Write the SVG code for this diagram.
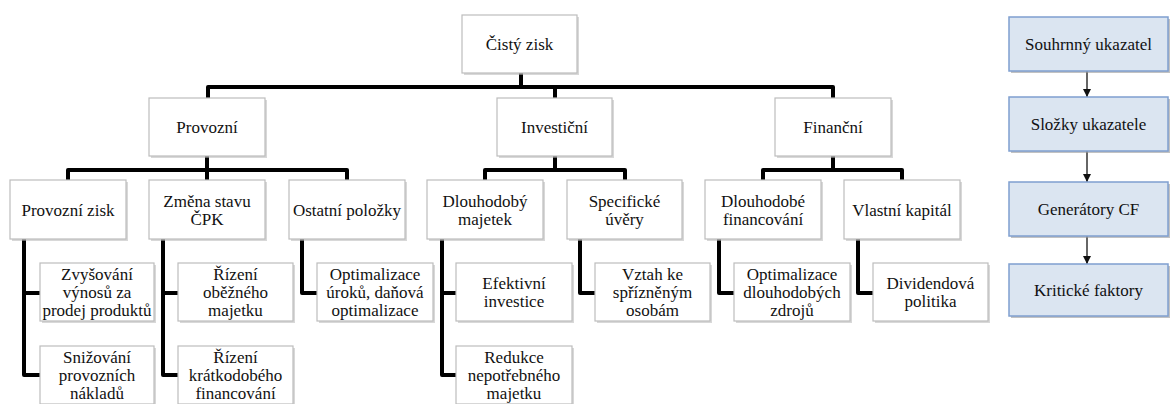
<svg xmlns="http://www.w3.org/2000/svg" width="1173" height="404" viewBox="0 0 1173 404" font-family="Liberation Serif, serif">
<defs>
<style>
.bx{fill:#ffffff;stroke:#bdbdbd;stroke-width:1.2}
.sh{fill:#b8b8b8;opacity:0.55}
.bb{fill:#dbe5f1;stroke:#7f9fcf;stroke-width:1.5}
.bsh{fill:#9a9a9a;opacity:0.6}
.t{font-size:17px;fill:#111;text-anchor:middle}
.c{fill:none;stroke:#000;stroke-width:4;stroke-linejoin:round}
.a{fill:none;stroke:#333;stroke-width:1.5}
</style>
<marker id="ah" viewBox="0 0 10 10" refX="10" refY="5" markerWidth="8" markerHeight="8" markerUnits="userSpaceOnUse" orient="auto">
<path d="M0,0 L10,5 L0,10 z" fill="#111"/>
</marker>
</defs>
<rect width="1173" height="404" fill="#ffffff"/>

<g id="connectors">
<path class="c" d="M521,73 V87 M208,98 V87 H833 V98 M555,87 V98"/>
<path class="c" d="M207,156 V170 M68,180 V170 H347 V180 M207,170 V180"/>
<path class="c" d="M555,156 V170 M485,180 V170 H625 V180"/>
<path class="c" d="M833,156 V170 M763,180 V170 H902 V180"/>
<path class="c" d="M24,239 V375 H40 M24,293 H40"/>
<path class="c" d="M163,239 V375 H178 M163,293 H178"/>
<path class="c" d="M302,239 V293 H317"/>
<path class="c" d="M442,239 V375 H456 M442,293 H456"/>
<path class="c" d="M580,239 V293 H595"/>
<path class="c" d="M719,239 V293 H734"/>
<path class="c" d="M858,239 V293 H873"/>
<path class="a" d="M1087,71 V97" marker-end="url(#ah)"/>
<path class="a" d="M1087,151 V182" marker-end="url(#ah)"/>
<path class="a" d="M1087,236 V264" marker-end="url(#ah)"/>
</g>

<g id="cisty-zisk"><rect class="sh" x="464" y="17" width="115" height="58"/><rect class="bx" x="462" y="15" width="115" height="58"/><text class="t" x="519.5" y="50">Čistý zisk</text></g>

<g id="provozni"><rect class="sh" x="151" y="100" width="116" height="58"/><rect class="bx" x="149" y="98" width="116" height="58"/><text class="t" x="207" y="133">Provozní</text></g>
<g id="investicni"><rect class="sh" x="499" y="100" width="115" height="58"/><rect class="bx" x="497" y="98" width="115" height="58"/><text class="t" x="554.5" y="133">Investiční</text></g>
<g id="financni"><rect class="sh" x="777" y="100" width="116" height="58"/><rect class="bx" x="775" y="98" width="116" height="58"/><text class="t" x="833" y="133">Finanční</text></g>

<g id="provozni-zisk"><rect class="sh" x="12" y="182" width="116" height="59"/><rect class="bx" x="10" y="180" width="116" height="59"/><text class="t" x="68" y="215.5">Provozní zisk</text></g>
<g id="zmena-cpk"><rect class="sh" x="151" y="182" width="116" height="59"/><rect class="bx" x="149" y="180" width="116" height="59"/><text class="t" x="207" y="206.5">Změna stavu</text><text class="t" x="207" y="224.5">ČPK</text></g>
<g id="ostatni"><rect class="sh" x="291" y="182" width="116" height="59"/><rect class="bx" x="289" y="180" width="116" height="59"/><text class="t" x="347" y="215.5">Ostatní položky</text></g>
<g id="dlouhodoby-majetek"><rect class="sh" x="429" y="182" width="116" height="59"/><rect class="bx" x="427" y="180" width="116" height="59"/><text class="t" x="485" y="206.5">Dlouhodobý</text><text class="t" x="485" y="224.5">majetek</text></g>
<g id="specificke-uvery"><rect class="sh" x="569" y="182" width="115" height="59"/><rect class="bx" x="567" y="180" width="115" height="59"/><text class="t" x="624.5" y="206.5">Specifické</text><text class="t" x="624.5" y="224.5">úvěry</text></g>
<g id="dlouhodobe-financovani"><rect class="sh" x="707" y="182" width="116" height="59"/><rect class="bx" x="705" y="180" width="116" height="59"/><text class="t" x="763" y="206.5">Dlouhodobé</text><text class="t" x="763" y="224.5">financování</text></g>
<g id="vlastni-kapital"><rect class="sh" x="846" y="182" width="116" height="59"/><rect class="bx" x="844" y="180" width="116" height="59"/><text class="t" x="902" y="215.5">Vlastní kapitál</text></g>

<g id="zvysovani"><rect class="sh" x="42" y="265" width="114" height="58"/><rect class="bx" x="40" y="263" width="114" height="58"/><text class="t" x="97" y="280">Zvyšování</text><text class="t" x="97" y="298">výnosů za</text><text class="t" x="97" y="316">prodej produktů</text></g>
<g id="snizovani"><rect class="sh" x="42" y="348" width="114" height="58"/><rect class="bx" x="40" y="346" width="114" height="58"/><text class="t" x="97" y="363">Snižování</text><text class="t" x="97" y="381">provozních</text><text class="t" x="97" y="399">nákladů</text></g>
<g id="rizeni-obezneho"><rect class="sh" x="180" y="265" width="115" height="58"/><rect class="bx" x="178" y="263" width="115" height="58"/><text class="t" x="235.5" y="280">Řízení</text><text class="t" x="235.5" y="298">oběžného</text><text class="t" x="235.5" y="316">majetku</text></g>
<g id="rizeni-kratkodobeho"><rect class="sh" x="180" y="348" width="115" height="58"/><rect class="bx" x="178" y="346" width="115" height="58"/><text class="t" x="235.5" y="363">Řízení</text><text class="t" x="235.5" y="381">krátkodobého</text><text class="t" x="235.5" y="399">financování</text></g>
<g id="optimalizace-uroku"><rect class="sh" x="319" y="265" width="116" height="58"/><rect class="bx" x="317" y="263" width="116" height="58"/><text class="t" x="375" y="280">Optimalizace</text><text class="t" x="375" y="298">úroků, daňová</text><text class="t" x="375" y="316">optimalizace</text></g>
<g id="efektivni-investice"><rect class="sh" x="458" y="265" width="116" height="58"/><rect class="bx" x="456" y="263" width="116" height="58"/><text class="t" x="514" y="289">Efektivní</text><text class="t" x="514" y="307">investice</text></g>
<g id="redukce"><rect class="sh" x="458" y="348" width="116" height="58"/><rect class="bx" x="456" y="346" width="116" height="58"/><text class="t" x="514" y="363">Redukce</text><text class="t" x="514" y="381">nepotřebného</text><text class="t" x="514" y="399">majetku</text></g>
<g id="vztah"><rect class="sh" x="597" y="265" width="115" height="58"/><rect class="bx" x="595" y="263" width="115" height="58"/><text class="t" x="652.5" y="280">Vztah ke</text><text class="t" x="652.5" y="298">spřízněným</text><text class="t" x="652.5" y="316">osobám</text></g>
<g id="optimalizace-zdroju"><rect class="sh" x="736" y="265" width="116" height="58"/><rect class="bx" x="734" y="263" width="116" height="58"/><text class="t" x="792" y="280">Optimalizace</text><text class="t" x="792" y="298">dlouhodobých</text><text class="t" x="792" y="316">zdrojů</text></g>
<g id="dividendova"><rect class="sh" x="875" y="265" width="115" height="58"/><rect class="bx" x="873" y="263" width="115" height="58"/><text class="t" x="930.5" y="289">Dividendová</text><text class="t" x="930.5" y="307">politika</text></g>

<g id="souhrnny"><rect class="bsh" x="1011" y="19" width="159" height="54"/><rect class="bb" x="1009" y="17" width="159" height="54"/><text class="t" x="1088.5" y="50">Souhrnný ukazatel</text></g>
<g id="slozky"><rect class="bsh" x="1011" y="99" width="159" height="54"/><rect class="bb" x="1009" y="97" width="159" height="54"/><text class="t" x="1088.5" y="130">Složky ukazatele</text></g>
<g id="generatory"><rect class="bsh" x="1011" y="184" width="159" height="54"/><rect class="bb" x="1009" y="182" width="159" height="54"/><text class="t" x="1088.5" y="215">Generátory CF</text></g>
<g id="kriticke"><rect class="bsh" x="1011" y="266" width="159" height="52"/><rect class="bb" x="1009" y="264" width="159" height="52"/><text class="t" x="1088.5" y="296">Kritické faktory</text></g>
</svg>
